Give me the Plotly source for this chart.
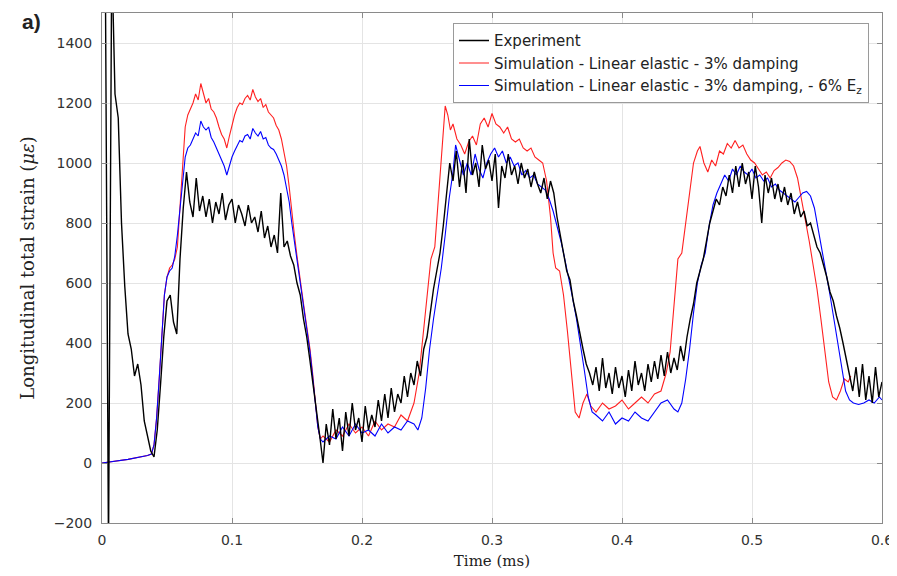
import numpy as np
import plotly.graph_objects as go

# ---------------- data ----------------
# Simulation - Linear elastic - 3% damping (red)
red_t = [0, 0.02, 0.035, 0.038, 0.040, 0.042, 0.044, 0.046, 0.048, 0.050, 0.052, 0.054, 0.056, 0.058,
         0.060, 0.062, 0.064, 0.066, 0.068, 0.070, 0.072, 0.074, 0.076, 0.078, 0.080, 0.082, 0.084,
         0.086, 0.088, 0.090, 0.092, 0.094, 0.096, 0.098, 0.100, 0.102, 0.104, 0.106, 0.108, 0.110,
         0.112, 0.114, 0.116, 0.118, 0.120, 0.122, 0.124, 0.126, 0.128, 0.130, 0.132, 0.134, 0.136,
         0.138, 0.140, 0.142, 0.144, 0.146, 0.148, 0.150, 0.152, 0.154, 0.156, 0.158, 0.160, 0.162,
         0.164, 0.166, 0.168, 0.170, 0.175, 0.180, 0.185, 0.190, 0.195, 0.200, 0.205, 0.210, 0.215,
         0.220, 0.225, 0.230, 0.235, 0.240, 0.244, 0.247, 0.250, 0.253, 0.256, 0.259, 0.262, 0.264,
         0.266, 0.268, 0.270, 0.273, 0.276, 0.279, 0.282, 0.285, 0.288, 0.291, 0.294, 0.297, 0.300,
         0.303, 0.306, 0.309, 0.312, 0.315, 0.318, 0.321, 0.324, 0.327, 0.330, 0.333, 0.336, 0.339,
         0.342, 0.345, 0.347, 0.349, 0.352, 0.355, 0.358, 0.361, 0.364, 0.367, 0.370, 0.373, 0.376,
         0.380, 0.385, 0.390, 0.395, 0.400, 0.405, 0.410, 0.415, 0.420, 0.425, 0.430, 0.434, 0.437,
         0.440, 0.443, 0.446, 0.449, 0.452, 0.455, 0.458, 0.460, 0.463, 0.466, 0.469, 0.472, 0.475,
         0.478, 0.481, 0.484, 0.487, 0.490, 0.493, 0.496, 0.499, 0.502, 0.505, 0.508, 0.511, 0.514,
         0.517, 0.520, 0.523, 0.526, 0.529, 0.532, 0.535, 0.538, 0.541, 0.544, 0.547, 0.550, 0.553,
         0.556, 0.559, 0.562, 0.565, 0.568, 0.571, 0.574, 0.576]
red_v = [0, 12, 25, 30, 60, 150, 280, 420, 560, 620, 650, 660, 680, 720,
         850, 1000, 1120, 1160, 1180, 1200, 1230, 1210, 1265, 1230, 1200, 1215, 1180,
         1170, 1150, 1120, 1095, 1080, 1050, 1090, 1130, 1160, 1185, 1200, 1195, 1215,
         1225, 1210, 1245, 1220, 1205, 1215, 1185, 1195, 1170, 1160, 1150, 1125, 1110,
         1080, 1040, 990, 920, 830, 760, 690, 620, 560, 500, 440, 380, 300,
         200, 120, 80, 90, 70, 110, 90, 130, 100, 120, 90, 140, 110,
         130, 120, 160, 140, 200, 300, 420, 560, 680, 720, 900, 1080, 1190,
         1160, 1110, 1130, 1080, 1060, 1030, 1070, 1090, 1060, 1130, 1150, 1120, 1165,
         1130, 1120, 1100, 1120, 1080, 1070, 1080, 1050, 1040, 1050, 1020, 1010, 1000,
         940, 820, 700, 650, 640, 560, 440, 300, 170, 150, 200, 230, 190,
         170, 200, 180, 190, 210, 180, 200, 220, 200, 230, 240, 300, 370,
         540, 680, 700, 800, 900, 1000, 1040, 1055, 1000, 970, 1010, 990, 1040,
         1030, 1065, 1050, 1075, 1050, 1060, 1030, 1010, 1000, 980, 960, 970, 950,
         975, 985, 1000, 1010, 1005, 990, 950, 880, 820, 740, 660, 580, 480,
         380, 270, 220, 210, 240, 280, 270, 290]

# Simulation - Linear elastic - 3% damping, - 6% E_z (blue)
blue_t = [0, 0.02, 0.035, 0.038, 0.040, 0.042, 0.044, 0.046, 0.048, 0.050, 0.052, 0.054, 0.056, 0.058,
          0.060, 0.062, 0.064, 0.066, 0.068, 0.070, 0.072, 0.074, 0.076, 0.078, 0.080, 0.082, 0.084,
          0.086, 0.088, 0.090, 0.092, 0.094, 0.096, 0.098, 0.100, 0.102, 0.104, 0.106, 0.108, 0.110,
          0.112, 0.114, 0.116, 0.118, 0.120, 0.122, 0.124, 0.126, 0.128, 0.130, 0.132, 0.134, 0.136,
          0.138, 0.140, 0.142, 0.144, 0.146, 0.148, 0.150, 0.152, 0.154, 0.156, 0.158, 0.160, 0.162,
          0.164, 0.166, 0.168, 0.170, 0.175, 0.180, 0.185, 0.190, 0.195, 0.200, 0.205, 0.210, 0.215,
          0.220, 0.225, 0.230, 0.235, 0.240, 0.243, 0.246, 0.249, 0.252, 0.255, 0.258, 0.261, 0.264,
          0.267, 0.270, 0.272, 0.275, 0.278, 0.281, 0.284, 0.287, 0.290, 0.293, 0.296, 0.299, 0.302,
          0.305, 0.308, 0.311, 0.314, 0.317, 0.320, 0.323, 0.326, 0.329, 0.332, 0.335, 0.338, 0.341,
          0.344, 0.347, 0.350, 0.353, 0.356, 0.359, 0.362, 0.365, 0.368, 0.371, 0.374, 0.377, 0.380,
          0.385, 0.390, 0.395, 0.400, 0.405, 0.410, 0.415, 0.420, 0.425, 0.430, 0.435, 0.440, 0.443,
          0.446, 0.449, 0.452, 0.455, 0.458, 0.461, 0.464, 0.467, 0.470, 0.473, 0.476, 0.479, 0.482,
          0.485, 0.488, 0.491, 0.494, 0.497, 0.500, 0.503, 0.506, 0.509, 0.512, 0.515, 0.518, 0.521,
          0.524, 0.527, 0.530, 0.533, 0.536, 0.539, 0.542, 0.545, 0.548, 0.551, 0.554, 0.557, 0.560,
          0.563, 0.566, 0.569, 0.572, 0.575, 0.578, 0.582, 0.586, 0.590, 0.594, 0.598, 0.600]
blue_v = [0, 12, 25, 30, 60, 150, 280, 420, 560, 620, 640, 650, 690, 760,
          850, 950, 1020, 1050, 1060, 1080, 1100, 1090, 1140, 1120, 1110, 1120, 1085,
          1070, 1050, 1030, 1010, 990, 960, 990, 1020, 1040, 1060, 1075, 1070, 1090,
          1095, 1080, 1115, 1100, 1090, 1105, 1080, 1085, 1060, 1050, 1045, 1030, 1010,
          990, 960, 920, 870, 800, 740, 680, 610, 550, 490, 430, 370, 290,
          200, 120, 80, 70, 90, 80, 120, 90, 130, 100, 110, 90, 130,
          100, 120, 110, 140, 130, 110, 150, 250, 380, 480, 560, 650, 760,
          880, 970, 1060, 1010, 960, 1000, 960, 1030, 980, 950, 1000, 1030, 1050,
          1020, 1040, 1000, 1020, 990, 1000, 960, 975, 950, 960, 930, 920, 910,
          880, 840, 790, 740, 680, 620, 550, 480, 400, 310, 220, 170, 160,
          140, 170, 130, 150, 140, 170, 150, 140, 170, 200, 210, 180, 170,
          200, 280, 380, 500, 600, 660, 700, 790, 860, 900, 930, 960, 940,
          980, 960, 990, 970, 960, 980, 950, 960, 940, 950, 920, 930, 910,
          900, 890, 880, 870, 885, 900, 905, 890, 850, 780, 700, 640, 560,
          480, 400, 310, 240, 210, 200, 195, 200, 210, 200, 220, 210]

# Experiment (black), sampled every 0.0025 ms starting at t = 0
exp_dt = 0.0025
exp_v = [None, 1700, -300, 1700, 1230, 1150, 800, 590, 430, 380,
         290, 330, 260, 140, 90, 40, 20, 110, 260, 420,
         540, 560, 470, 430, 680, 850, 970, 870, 820, 950,
         840, 890, 820, 880, 800, 870, 830, 900, 810, 860,
         880, 800, 860, 830, 790, 860, 800, 820, 770, 840,
         750, 790, 720, 760, 700, 900, 720, 740, 690, 660,
         600, 560, 480, 420, 340, 260, 170, 90, 0, 130,
         60, 180, 80, 150, 40, 170, 90, 200, 110, 150,
         70, 190, 110, 160, 120, 210, 140, 230, 150, 250,
         170, 230, 200, 290, 220, 300, 260, 340, 290, 380,
         420, 510, 580, 640, 700, 790, 900, 1000, 940, 1040,
         920, 1010, 900, 1080, 960, 1000, 920, 1060, 980, 1010,
         940, 1030, 850, 990, 950, 1030, 960, 990, 930, 1000,
         950, 980, 920, 970, 930, 900, 950, 880, 940, 900,
         820, 760, 700, 640, 610, 540, 490, 430, 380, 330,
         300, 260, 320, 240, 350, 250, 300, 230, 320, 250,
         290, 220, 310, 240, 340, 260, 300, 240, 330, 270,
         340, 280, 360, 290, 370, 300, 350, 310, 390, 340,
         420, 480, 530, 600, 640, 680, 740, 800, 840, 880,
         860, 920, 890, 960, 900, 990, 920, 1000, 930, 970,
         880, 990, 920, 800, 960, 900, 950, 880, 930, 870,
         920, 860, 900, 830, 870, 820, 840, 790, 800, 760,
         720, 700, 660, 620, 570, 540, 490, 450, 400, 350,
         300, 240, 320, 220, 330, 210, 290, 200, 320, 220,
         270]
exp_t = [round(i * exp_dt, 4) for i in range(len(exp_v))]

x_ticks = [0, 0.1, 0.2, 0.3, 0.4, 0.5, 0.6]
x_ticklabels = ["0", "0.1", "0.2", "0.3", "0.4", "0.5", "0.6"]
y_ticks = [-200, 0, 200, 400, 600, 800, 1000, 1200, 1400]

names = ["Experiment",
         "Simulation - Linear elastic - 3% damping",
         "Simulation - Linear elastic - 3% damping, - 6% E<sub>z</sub>"]

# ---------------- figure ----------------
fig = go.Figure()
fig.add_trace(go.Scatter(x=red_t, y=red_v, mode="lines", name=names[1],
                         line=dict(color="#ff2020", width=1.1), legendrank=2))
fig.add_trace(go.Scatter(x=blue_t, y=blue_v, mode="lines", name=names[2],
                         line=dict(color="#0000ff", width=1.1), legendrank=3))
fig.add_trace(go.Scatter(x=exp_t, y=exp_v, mode="lines", name=names[0],
                         line=dict(color="black", width=1.4), legendrank=1))

tick_font = dict(family="DejaVu Sans, Verdana", size=14, color="#333333")
axis_common = dict(showline=True, linecolor="#8a8a8a", linewidth=1, mirror="ticks",
                   ticks="inside", ticklen=5, tickcolor="#8a8a8a",
                   showgrid=True, gridcolor="#e4e4e4", gridwidth=1, zeroline=False,
                   automargin=False, tickfont=tick_font)

fig.update_xaxes(range=[0, 0.6], tickvals=x_ticks, ticktext=x_ticklabels,
                 ticklabelstandoff=4,
                 title=dict(text="Time (ms)", standoff=8,
                            font=dict(family="DejaVu Serif, Liberation Serif", size=15, color="#222222")),
                 **axis_common)
fig.update_yaxes(range=[-200, 1500], tickvals=y_ticks, ticklabelstandoff=6,
                 title=dict(text="Longitudinal total strain (<i>με</i>)", standoff=14,
                            font=dict(family="DejaVu Serif, Liberation Serif", size=18, color="#222222")),
                 **axis_common)

# the page body adds an 8 px offset, so the figure is 8 px smaller and margins compensate
fig.update_layout(
    width=889, height=568,
    margin=dict(l=94, r=15, t=5, b=53),
    paper_bgcolor="white", plot_bgcolor="white",
    showlegend=True,
    legend=dict(x=0.45, y=0.98, xanchor="left", yanchor="top",
                bgcolor="white", bordercolor="#9a9a9a", borderwidth=1,
                font=dict(family="DejaVu Sans, Verdana", size=15, color="#222222"),
                tracegroupgap=0, itemwidth=30),
    annotations=[dict(text="<b>a)</b>", xref="paper", yref="paper",
                      x=-0.09, y=1.01, xanchor="center", yanchor="top",
                      showarrow=False,
                      font=dict(family="Liberation Sans, Arial", size=21, color="#222222"))],
)

fig.write_html("out.html")
